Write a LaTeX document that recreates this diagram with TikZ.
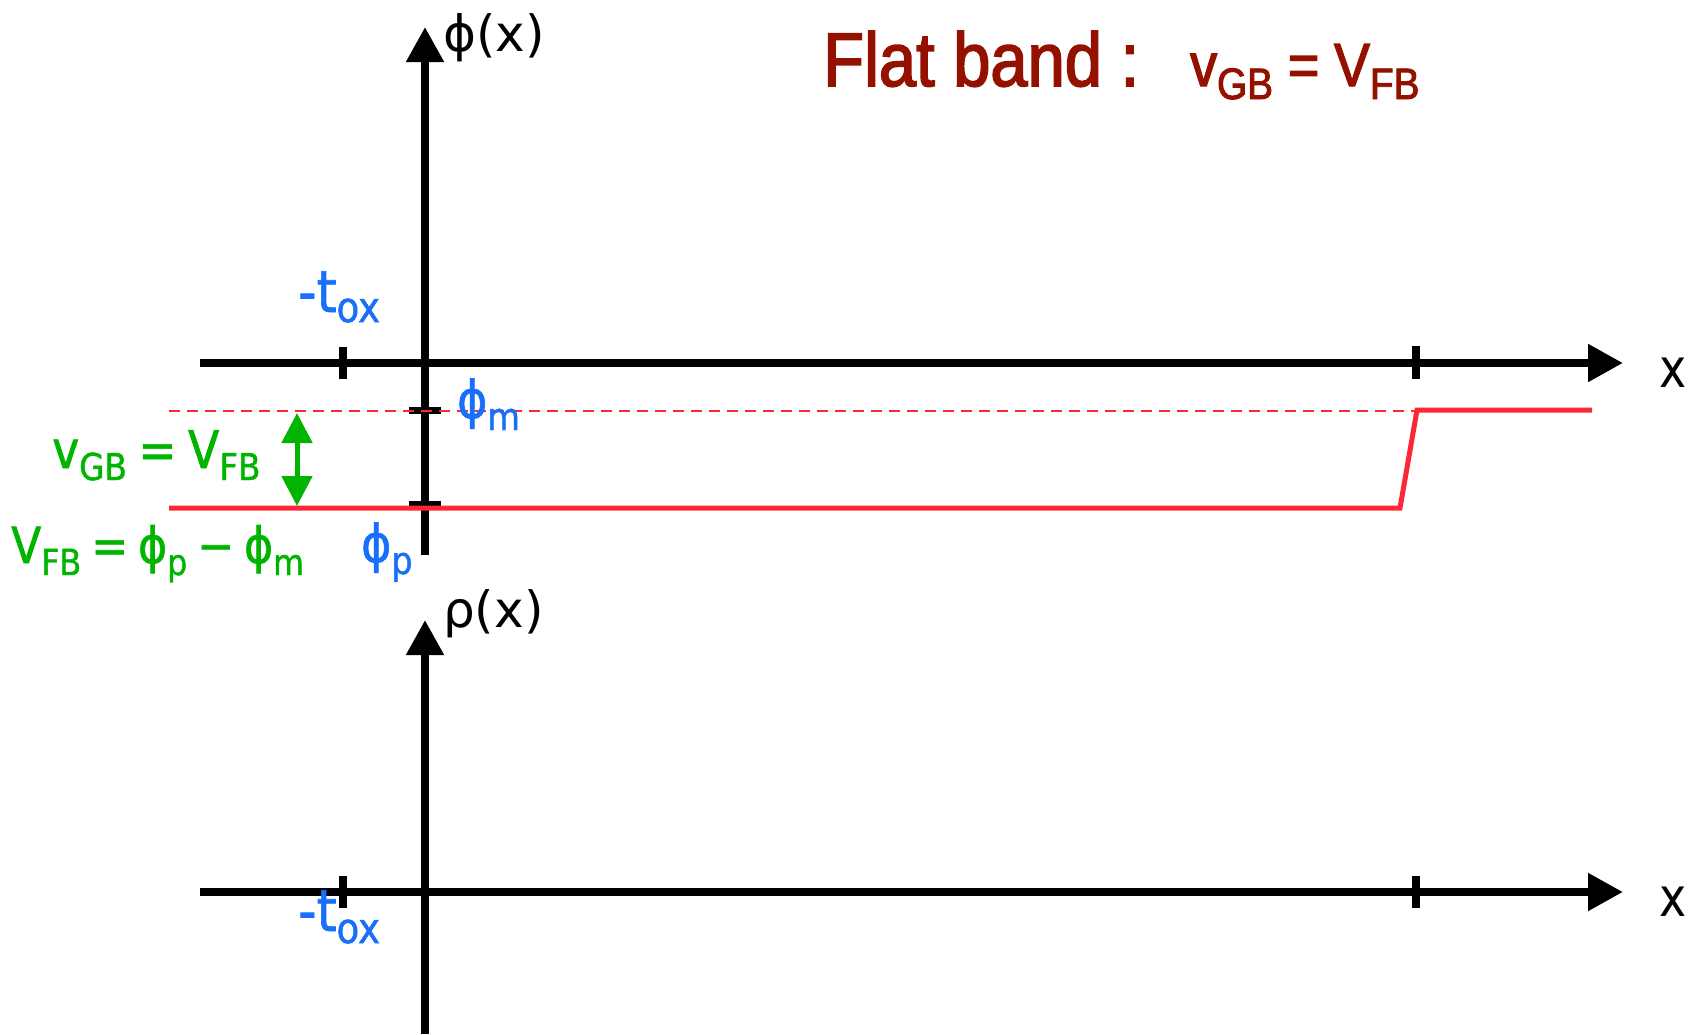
\documentclass[tikz,border=0pt]{standalone}
\usepackage{fontspec}
\setmainfont{DejaVu Sans}
\newfontfamily\labfont[FakeStretch=0.88,FakeBold=1.2]{DejaVu Sans}
\newfontfamily\xfont[FakeStretch=0.85]{DejaVu Sans}
\newfontfamily\titlefont[FakeStretch=0.88,FakeBold=2.2]{Liberation Sans}
\usetikzlibrary{arrows.meta}
\definecolor{ttlred}{RGB}{148,17,0}
\definecolor{lgreen}{RGB}{0,180,0}
\definecolor{lblue}{RGB}{25,110,250}
\definecolor{cred}{RGB}{252,40,55}
\newcommand\sbs[3]{\raisebox{-#2}{\fontsize{#1}{#1}\selectfont #3}}
\newcommand\gap[1]{\hspace{#1em}}
\tikzset{
  axisline/.style={line width=8pt, -{Triangle[length=35pt,width=36pt]}},
  tickmark/.style={line width=8pt},
  vtick/.style={line width=7pt},
  redsolid/.style={cred, line width=5pt, line join=miter},
  reddash/.style={cred, line width=2.5pt, dash pattern=on 11pt off 7pt},
  greenarrow/.style={lgreen, line width=5pt, {Triangle[length=30pt,width=30pt]}-{Triangle[length=30pt,width=30pt]}},
  axislabel/.style={font=\fontsize{50}{50}\selectfont, inner sep=0pt},
  xlabel/.style={font=\xfont\fontsize{54}{54}\selectfont, inner sep=0pt, anchor=base west},
  bluelabel/.style={font=\labfont\fontsize{52}{52}\selectfont, text=lblue, inner sep=0pt, anchor=base west},
  greenlabel/.style={font=\labfont\fontsize{52}{52}\selectfont, text=lgreen, inner sep=0pt, anchor=base west},
  titlelabel/.style={text=ttlred, inner sep=0pt, anchor=base west},
}
\begin{document}
\begin{tikzpicture}[x=1pt,y=-1pt]
\useasboundingbox (0,0) rectangle (1691,1034);
% coordinates
\coordinate (uaxL) at (200,363);
\coordinate (uaxR) at (1623,363);
\coordinate (uvT) at (425,27);
\coordinate (uvB) at (425,555);
\coordinate (laxL) at (200,892);
\coordinate (laxR) at (1623,892);
\coordinate (lvT) at (425,620);
\coordinate (lvB) at (425,1034);
% upper axes
\draw[axisline] (uaxL) -- (uaxR);
\draw[axisline] (uvB) -- (uvT);
\draw[tickmark] (343,347) -- (343,379);
\draw[tickmark] (1416,346) -- (1416,379);
\draw[vtick] (409,410) -- (441,410);
\draw[vtick] (409,504) -- (441,504);
% lower axes
\draw[axisline] (laxL) -- (laxR);
\draw[axisline] (lvB) -- (lvT);
\draw[tickmark] (343,876) -- (343,908);
\draw[tickmark] (1416,876) -- (1416,908);
% red curves
\coordinate (dL) at (169,411);
\coordinate (dR) at (1417,411);
\coordinate (sL) at (169,508);
\coordinate (sK) at (1400,508);
\coordinate (sT) at (1417,410);
\coordinate (sR) at (1592,410);
\draw[reddash] (dL) -- (dR);
\draw[redsolid] (sL) -- (sK) -- (sT) -- (sR);
% green arrow
\coordinate (gT) at (297,413);
\coordinate (gB) at (297,506);
\draw[greenarrow] (gT) -- (gB);
% labels
\node[axislabel, anchor=west] (phix) at (443,38) {ϕ(x)};
\node[axislabel, anchor=west] (rhox) at (443,614) {ρ(x)};
\node[xlabel] (xu) at (1659,387) {x};
\node[xlabel] (xl) at (1659,916) {x};
\node[bluelabel, font=\labfont\fontsize{58}{58}\selectfont] (toxu) at (298,312) {-t\sbs{42}{10pt}{ox}};
\node[bluelabel, font=\labfont\fontsize{58}{58}\selectfont] (toxl) at (298,931) {-t\sbs{42}{12pt}{ox}};
\node[bluelabel] (phim) at (457,418) {ϕ\sbs{38}{12pt}{m}};
\node[bluelabel] (phip) at (361,562) {ϕ\sbs{38}{12pt}{p}};
\node[greenlabel] (vgb) at (52,468) {v\sbs{37}{12pt}{GB}\gap{0.22}=\gap{0.22}V\sbs{37}{12pt}{FB}};
\node[greenlabel, font=\labfont\fontsize{50}{50}\selectfont] (vfb) at (11,563) {V\sbs{36}{12pt}{FB}\gap{0.2}=\gap{0.2}ϕ\sbs{36}{12pt}{p}\gap{0.2}−\gap{0.2}ϕ\sbs{36}{12pt}{m}};
\node[titlelabel, font=\titlefont\fontsize{76}{76}\selectfont] (ttl) at (823,86) {Flat band :};
\node[titlelabel, font=\titlefont\fontsize{61}{61}\selectfont] (ttleq) at (1190,86) {v\sbs{44}{13pt}{GB} = V\sbs{44}{13pt}{FB}};
\end{tikzpicture}
\end{document}
